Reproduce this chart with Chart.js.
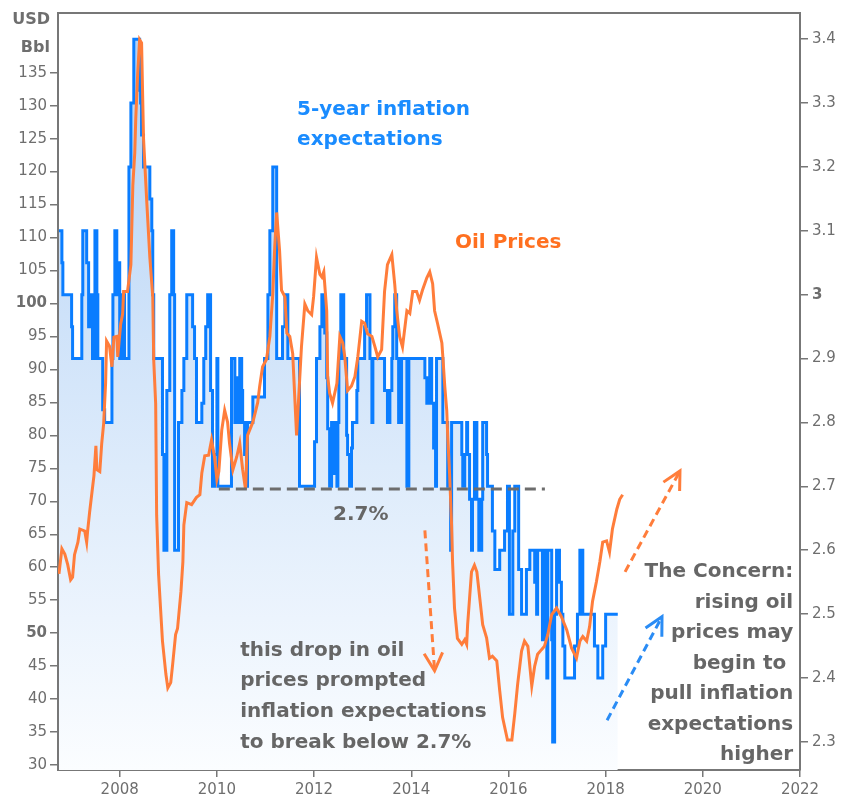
<!DOCTYPE html>
<html>
<head>
<meta charset="utf-8">
<script src="https://cdn.jsdelivr.net/npm/chart.js@4.4.1/dist/chart.umd.min.js"></script>
<style>
  html, body { margin: 0; padding: 0; background: #fff; }
  #wrap { width: 844px; height: 806px; }
</style>
</head>
<body>
<div id="wrap"><canvas id="oilChart" width="844" height="806"></canvas></div>
<script>
// oil price, USD/Bbl (left axis)
const oilDates = [
  2006.75, 2006.81, 2006.87, 2006.93, 2006.99, 2007.03, 2007.07, 2007.14, 2007.18, 2007.28,
  2007.32, 2007.34, 2007.38, 2007.42, 2007.47, 2007.51, 2007.53, 2007.59, 2007.63, 2007.67,
  2007.71, 2007.73, 2007.79, 2007.84, 2007.88, 2007.94, 2007.96, 2008.02, 2008.06, 2008.08,
  2008.16, 2008.23, 2008.27, 2008.31, 2008.33, 2008.37, 2008.41, 2008.45, 2008.49, 2008.56,
  2008.62, 2008.68, 2008.70, 2008.74, 2008.76, 2008.80, 2008.84, 2008.88, 2008.95, 2008.99,
  2009.05, 2009.09, 2009.15, 2009.19, 2009.26, 2009.30, 2009.32, 2009.38, 2009.48, 2009.58,
  2009.65, 2009.69, 2009.75, 2009.83, 2009.89, 2009.95, 2010.00, 2010.04, 2010.10, 2010.16,
  2010.22, 2010.26, 2010.33, 2010.41, 2010.47, 2010.53, 2010.59, 2010.63, 2010.74, 2010.84,
  2010.88, 2010.94, 2011.02, 2011.09, 2011.15, 2011.19, 2011.23, 2011.29, 2011.33, 2011.40,
  2011.44, 2011.50, 2011.56, 2011.64, 2011.70, 2011.74, 2011.81, 2011.87, 2011.95, 2011.99,
  2012.05, 2012.12, 2012.16, 2012.20, 2012.26, 2012.28, 2012.32, 2012.38, 2012.47, 2012.53,
  2012.59, 2012.63, 2012.69, 2012.77, 2012.84, 2012.90, 2012.98, 2013.04, 2013.10, 2013.19,
  2013.25, 2013.31, 2013.39, 2013.45, 2013.51, 2013.60, 2013.66, 2013.70, 2013.76, 2013.82,
  2013.91, 2013.97, 2014.03, 2014.11, 2014.17, 2014.23, 2014.32, 2014.38, 2014.44, 2014.48,
  2014.54, 2014.63, 2014.65, 2014.69, 2014.73, 2014.75, 2014.79, 2014.83, 2014.85, 2014.89,
  2014.95, 2015.04, 2015.10, 2015.14, 2015.16, 2015.20, 2015.24, 2015.30, 2015.35, 2015.41,
  2015.47, 2015.55, 2015.61, 2015.67, 2015.76, 2015.82, 2015.88, 2015.98, 2016.07, 2016.13,
  2016.19, 2016.27, 2016.33, 2016.40, 2016.48, 2016.54, 2016.60, 2016.68, 2016.74, 2016.81,
  2016.89, 2016.99, 2017.09, 2017.20, 2017.30, 2017.40, 2017.47, 2017.53, 2017.61, 2017.67,
  2017.73, 2017.81, 2017.88, 2017.94, 2018.02, 2018.08, 2018.14, 2018.23, 2018.29, 2018.35
];
const oilPrices = [
  59, 62.8, 62, 60.4, 58.1, 58.5, 61.9, 63.8, 65.8, 65.5,
  63.8, 65.5, 68.3, 70.8, 73.9, 78.4, 74.8, 74.5, 78.8, 81.8,
  88, 94.3, 93.5, 90.4, 94.9, 95, 91.9, 96.9, 98.4, 101.8,
  101.8, 105.9, 117.9, 122.9, 128, 134.9, 140, 139.5, 125, 115,
  107, 101, 91.4, 84.8, 67.9, 58.9, 53.8, 48.8, 43.8, 41.7,
  42.5, 45.3, 49.8, 50.7, 56.3, 60.8, 66.4, 69.8, 69.5, 70.6,
  71, 74.3, 76.9, 77, 79.3, 76.8, 73.3, 74.5, 80.8, 83.8,
  82, 78.8, 74.8, 76.8, 78.8, 74.8, 71.8, 80, 82, 85,
  87.4, 90.4, 91.5, 95, 101.4, 108.6, 113.8, 108, 102, 101,
  95.5, 95, 92.4, 80, 88, 93.4, 99.9, 98.9, 98.3, 101,
  107, 104.4, 104, 104.8, 98.9, 88.9, 86.4, 84.9, 87.9, 95,
  94, 92, 86.8, 87.5, 88.9, 91.9, 97.3, 97, 95.4, 95,
  93.5, 91.9, 93, 101.8, 105.9, 107.4, 102.9, 99, 95, 93.4,
  98.9, 98.5, 101.8, 101.8, 100.5, 102, 103.9, 104.8, 103, 98.9,
  97, 94, 91.9, 87.4, 83.8, 80, 73.9, 66.4, 60.8, 53.8,
  49.2, 48.3, 49, 48.3, 51.3, 55.3, 59.3, 60.3, 59.3, 55.3,
  51.3, 49.3, 46.2, 46.5, 45.8, 41.3, 37.2, 33.8, 33.8, 37.8,
  42.3, 47.3, 48.8, 48, 42, 45, 46.8, 47.5, 48, 49.8,
  52.8, 53.8, 52.5, 50.5, 47.7, 46.2, 48.8, 49.5, 48.8, 51,
  54.8, 57.8, 60.8, 63.8, 64, 62.3, 65.8, 68.8, 70.3, 71
];

// 5-year inflation expectations, % (right axis), value holds from each date
const expDates = [
  2006.75, 2006.81, 2006.83, 2007.01, 2007.03, 2007.22, 2007.24, 2007.32, 2007.36, 2007.42,
  2007.44, 2007.49, 2007.53, 2007.55, 2007.65, 2007.69, 2007.84, 2007.86, 2007.90, 2007.94,
  2007.96, 2008.00, 2008.06, 2008.10, 2008.19, 2008.23, 2008.29, 2008.41, 2008.43, 2008.45,
  2008.49, 2008.62, 2008.66, 2008.68, 2008.70, 2008.88, 2008.91, 2008.97, 2009.03, 2009.07,
  2009.11, 2009.13, 2009.21, 2009.28, 2009.32, 2009.38, 2009.50, 2009.54, 2009.58, 2009.69,
  2009.73, 2009.77, 2009.81, 2009.87, 2009.91, 2009.95, 2010.00, 2010.02, 2010.30, 2010.37,
  2010.41, 2010.43, 2010.47, 2010.51, 2010.53, 2010.57, 2010.61, 2010.63, 2010.74, 2010.98,
  2011.05, 2011.09, 2011.15, 2011.23, 2011.35, 2011.40, 2011.46, 2011.70, 2012.01, 2012.05,
  2012.12, 2012.16, 2012.22, 2012.26, 2012.28, 2012.32, 2012.36, 2012.38, 2012.42, 2012.47,
  2012.49, 2012.51, 2012.55, 2012.61, 2012.67, 2012.69, 2012.73, 2012.77, 2012.79, 2012.88,
  2012.90, 2013.04, 2013.08, 2013.15, 2013.19, 2013.21, 2013.45, 2013.51, 2013.56, 2013.60,
  2013.62, 2013.66, 2013.70, 2013.74, 2013.80, 2013.91, 2013.95, 2014.28, 2014.32, 2014.38,
  2014.42, 2014.46, 2014.50, 2014.52, 2014.65, 2014.75, 2014.81, 2014.83, 2015.04, 2015.06,
  2015.10, 2015.14, 2015.16, 2015.20, 2015.24, 2015.26, 2015.30, 2015.35, 2015.39, 2015.45,
  2015.47, 2015.55, 2015.57, 2015.67, 2015.72, 2015.82, 2015.92, 2015.98, 2016.02, 2016.09,
  2016.13, 2016.21, 2016.27, 2016.37, 2016.44, 2016.54, 2016.58, 2016.60, 2016.70, 2016.74,
  2016.79, 2016.81, 2016.89, 2016.91, 2016.95, 2016.99, 2017.05, 2017.09, 2017.12, 2017.16,
  2017.36, 2017.42, 2017.47, 2017.53, 2017.77, 2017.84, 2017.94, 2018.00, 2018.25
];
const expValues = [
  3.10, 3.05, 3.00, 2.95, 2.90, 3.00, 3.10, 3.05, 2.95, 3.00,
  2.90, 3.10, 3.00, 2.90, 2.82, 2.80, 2.90, 3.00, 3.10, 3.00,
  3.05, 2.90, 3.00, 2.90, 3.20, 3.30, 3.40, 3.32, 3.30, 3.25,
  3.20, 3.15, 3.10, 3.00, 2.90, 2.75, 2.60, 2.85, 3.00, 3.10,
  3.00, 2.60, 2.80, 2.85, 2.90, 3.00, 2.95, 2.90, 2.80, 2.83,
  2.90, 2.95, 3.00, 2.85, 2.70, 2.75, 2.90, 2.70, 2.90, 2.80,
  2.87, 2.80, 2.90, 2.85, 2.80, 2.75, 2.70, 2.80, 2.84, 2.90,
  3.00, 3.10, 3.20, 2.90, 2.95, 3.00, 2.90, 2.70, 2.77, 2.90,
  2.95, 3.00, 2.94, 2.87, 2.79, 2.70, 2.80, 2.72, 2.80, 2.70,
  2.80, 2.90, 3.00, 2.90, 2.78, 2.75, 2.70, 2.76, 2.80, 2.85,
  2.90, 2.95, 3.00, 2.90, 2.80, 2.90, 2.85, 2.80, 2.85, 2.90,
  2.95, 3.00, 2.90, 2.80, 2.90, 2.70, 2.90, 2.87, 2.83, 2.90,
  2.83, 2.76, 2.70, 2.90, 2.80, 2.70, 2.60, 2.80, 2.75, 2.70,
  2.75, 2.80, 2.75, 2.68, 2.60, 2.68, 2.80, 2.68, 2.60, 2.68,
  2.80, 2.75, 2.70, 2.63, 2.57, 2.60, 2.63, 2.70, 2.50, 2.63,
  2.70, 2.57, 2.50, 2.57, 2.60, 2.55, 2.50, 2.60, 2.46, 2.60,
  2.40, 2.60, 2.46, 2.30, 2.50, 2.60, 2.55, 2.50, 2.45, 2.40,
  2.45, 2.50, 2.60, 2.50, 2.45, 2.40, 2.45, 2.50, 2.50
];

const yearTicks = [2008, 2010, 2012, 2014, 2016, 2018, 2020, 2022];
const usdTicks = [30, 35, 40, 45, 50, 55, 60, 65, 70, 75, 80, 85, 90, 95, 100, 105, 110, 115, 120, 125, 130, 135];
const pctTicks = [2.3, 2.4, 2.5, 2.6, 2.7, 2.8, 2.9, 3, 3.1, 3.2, 3.3, 3.4];
const boldUsd = [50, 100];
const boldPct = [3];

const oilPoints = oilDates.map((d, i) => ({ x: d, y: oilPrices[i] }));
const expPoints = expDates.map((d, i) => ({ x: d, y: expValues[i] }));

const BLUE = '#0a7dff';
const ORANGE = '#ff7d3b';
const AXIS = '#777777';
const LABEL = '#6e6e6e';
const NOTE = '#666666';

Chart.defaults.font.family = 'DejaVu Sans';

// text and arrows drawn on top, positioned with the chart's own scales
const notes = {
  id: 'notes',
  afterDatasetsDraw(chart) {
    const { ctx, chartArea: a } = chart;
    const x = chart.scales.x, y = chart.scales.y, y1 = chart.scales.y1;
    const px = v => x.getPixelForValue(v);
    const py = v => y.getPixelForValue(v);
    ctx.save();

    // 2.7% level
    ctx.strokeStyle = '#6d6d6d';
    ctx.lineWidth = 3;
    ctx.setLineDash([11, 6]);
    ctx.beginPath();
    ctx.moveTo(px(2010.04), y1.getPixelForValue(2.696));
    ctx.lineTo(px(2016.75), y1.getPixelForValue(2.696));
    ctx.stroke();

    function arrow(x0, y0, x1, y1p, color) {
      const ax = px(x0), ay = py(y0), bx = px(x1), by = py(y1p);
      ctx.strokeStyle = color;
      ctx.lineWidth = 3;
      ctx.setLineDash([8, 5]);
      ctx.beginPath();
      ctx.moveTo(ax, ay);
      ctx.lineTo(bx, by);
      ctx.stroke();
      const ang = Math.atan2(by - ay, bx - ax);
      ctx.setLineDash([]);
      ctx.beginPath();
      ctx.moveTo(bx - 20 * Math.cos(ang - 0.48), by - 20 * Math.sin(ang - 0.48));
      ctx.lineTo(bx, by);
      ctx.lineTo(bx - 20 * Math.cos(ang + 0.48), by - 20 * Math.sin(ang + 0.48));
      ctx.stroke();
    }
    arrow(2014.28, 65.6, 2014.48, 44.3, ORANGE);
    arrow(2018.40, 59.3, 2019.53, 74.6, ORANGE);
    arrow(2018.03, 36.8, 2019.16, 52.5, '#2a8cf5');

    ctx.textBaseline = 'middle';
    ctx.font = 'bold 20px "DejaVu Sans"';

    ctx.textAlign = 'left';
    ctx.fillStyle = '#1a8cff';
    ctx.fillText('5-year inflation', px(2011.65), py(129.3));
    ctx.fillText('expectations', px(2011.65), py(124.8));

    ctx.fillStyle = '#ff7020';
    ctx.fillText('Oil Prices', px(2014.90), py(109.2));

    ctx.fillStyle = NOTE;
    ctx.fillText('2.7%', px(2012.39), py(67.9));

    const drop = ['this drop in oil', 'prices prompted', 'inflation expectations', 'to break below 2.7%'];
    drop.forEach((t, i) => ctx.fillText(t, px(2010.48), py(47.4 - i * 4.66)));

    ctx.textAlign = 'right';
    const concern = ['The Concern:', 'rising oil', 'prices may', 'begin to ', 'pull inflation', 'expectations', 'higher'];
    concern.forEach((t, i) => ctx.fillText(t, px(2021.86), py(59.3 - i * 4.63)));

    // top frame line
    ctx.strokeStyle = AXIS;
    ctx.lineWidth = 2;
    ctx.beginPath();
    ctx.moveTo(a.left, a.top);
    ctx.lineTo(a.right, a.top);
    ctx.stroke();

    // left axis unit
    ctx.fillStyle = LABEL;
    ctx.font = 'bold 16px "DejaVu Sans"';
    ctx.fillText('USD', a.left - 8, 20);
    ctx.fillText('Bbl', a.left - 8, 48);
    ctx.restore();
  }
};

const gridOpts = { drawOnChartArea: false, drawTicks: true, tickLength: 8, color: AXIS, lineWidth: 1.5 };
const borderOpts = { color: AXIS, width: 2 };

new Chart(document.getElementById('oilChart'), {
  type: 'line',
  data: {
    datasets: [
      {
        label: 'Oil Prices',
        data: oilPoints,
        yAxisID: 'y',
        borderColor: ORANGE,
        borderWidth: 3,
        pointRadius: 0,
        fill: false
      },
      {
        label: '5-year inflation expectations',
        data: expPoints,
        yAxisID: 'y1',
        borderColor: BLUE,
        borderWidth: 3,
        pointRadius: 0,
        stepped: true,
        fill: 'start',
        backgroundColor: function (context) {
          const area = context.chart.chartArea;
          if (!area) return 'rgba(0,0,0,0)';
          const g = context.chart.ctx.createLinearGradient(0, area.top, 0, area.bottom);
          g.addColorStop(0, '#b0d0f5');
          g.addColorStop(1, '#fbfdff');
          return g;
        }
      }
    ]
  },
  options: {
    responsive: false,
    animation: false,
    layout: { padding: { top: 6 } },
    plugins: { legend: { display: false }, tooltip: { enabled: false } },
    scales: {
      x: {
        type: 'linear',
        min: 2006.73,
        max: 2022,
        afterBuildTicks: s => { s.ticks = yearTicks.map(v => ({ value: v })); },
        afterFit: s => { s.height = 36; },
        grid: { ...gridOpts, tickLength: 7 },
        border: borderOpts,
        ticks: { color: LABEL, font: { size: 15 }, padding: 4, maxRotation: 0, callback: v => String(v) }
      },
      y: {
        position: 'left',
        min: 29.25,
        max: 144.05,
        afterBuildTicks: s => { s.ticks = usdTicks.map(v => ({ value: v })); },
        afterFit: s => { s.width = 58; },
        grid: gridOpts,
        border: borderOpts,
        ticks: {
          color: LABEL,
          padding: 3,
          font: c => ({ size: 15, weight: c.tick && boldUsd.includes(c.tick.value) ? 'bold' : 'normal' }),
          callback: v => String(v)
        }
      },
      y1: {
        position: 'right',
        min: 2.256,
        max: 3.441,
        afterBuildTicks: s => { s.ticks = pctTicks.map(v => ({ value: v })); },
        afterFit: s => { s.width = 44; },
        grid: gridOpts,
        border: borderOpts,
        ticks: {
          color: LABEL,
          padding: 4,
          font: c => ({ size: 15, weight: c.tick && boldPct.includes(c.tick.value) ? 'bold' : 'normal' }),
          callback: v => String(Math.round(v * 10) / 10)
        }
      }
    }
  },
  plugins: [notes]
});
</script>
</body>
</html>
